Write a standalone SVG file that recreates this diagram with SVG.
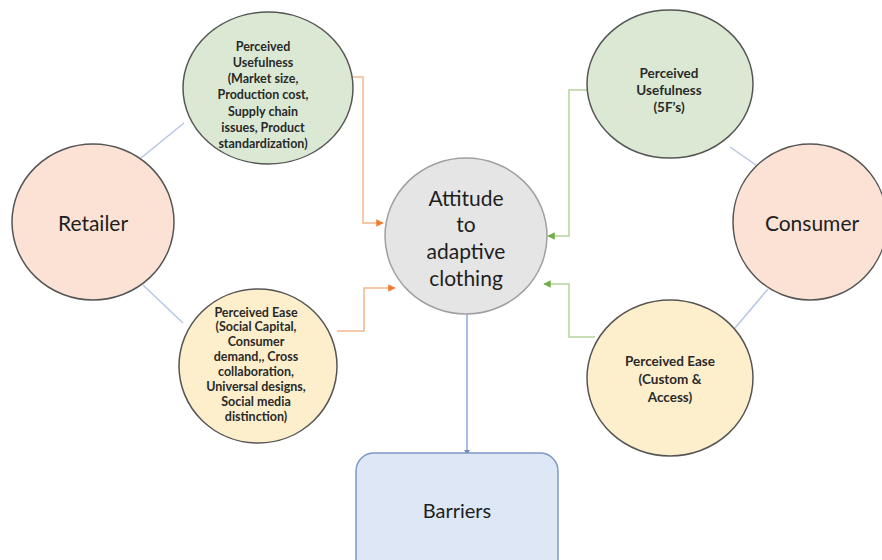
<svg xmlns="http://www.w3.org/2000/svg" width="882" height="560" viewBox="0 0 882 560">
<style>
  text { font-family: Lato, "Liberation Sans", sans-serif; fill: #1e1e1e; text-anchor: middle; dominant-baseline: central; }
  .small { font-size: 12.5px; font-weight: bold; fill: #2a2a2a; }
  .mid { font-size: 13.5px; font-weight: bold; fill: #2a2a2a; }
  .big { font-size: 21px; }
  .green { fill: #dbe9d4; stroke: #555; stroke-width: 1.5; }
  .yellow { fill: #fdefcb; stroke: #555; stroke-width: 1.5; }
  .peach { fill: #fbe2d4; stroke: #555; stroke-width: 1.5; }
  .grey { fill: #e5e5e6; stroke: #a0a0a4; stroke-width: 1.5; }
  .link { fill: none; stroke: #b7c6e4; stroke-width: 1.5; }
  .orange { fill: none; stroke: #f4b78e; stroke-width: 1.5; }
  .greenl { fill: none; stroke: #b5d29e; stroke-width: 1.5; }
  .bluel { fill: none; stroke: #8ea8d8; stroke-width: 1.5; }
</style>
<defs>
  <marker id="ao" viewBox="0 0 10 10" refX="9" refY="5" markerWidth="5" markerHeight="5" orient="auto">
    <path d="M0,0 L10,5 L0,10 z" fill="#ed7d31"/>
  </marker>
  <marker id="ag" viewBox="0 0 10 10" refX="9" refY="5" markerWidth="5" markerHeight="5" orient="auto">
    <path d="M0,0 L10,5 L0,10 z" fill="#70ad47"/>
  </marker>
  <marker id="ab" viewBox="0 0 10 10" refX="9" refY="5" markerWidth="4" markerHeight="4" orient="auto">
    <path d="M0,0 L10,5 L0,10 z" fill="#6a8ccc"/>
  </marker>
</defs>
<rect width="882" height="560" fill="#ffffff"/>
<g id="connectors">
  <line class="link" x1="141" y1="158" x2="184" y2="123"/>
  <line class="link" x1="143" y1="285" x2="183" y2="323"/>
  <line class="link" x1="730" y1="147" x2="756" y2="165"/>
  <line class="link" x1="768" y1="289" x2="735" y2="328"/>
  <polyline class="orange" points="352,77 363,77 363,223 383,223" marker-end="url(#ao)"/>
  <polyline class="orange" points="337,331 364,331 364,288 395,288" marker-end="url(#ao)"/>
  <polyline class="greenl" points="589,90 569,90 569,236 548,236" marker-end="url(#ag)"/>
  <polyline class="greenl" points="595,337 569,337 569,284 544,284" marker-end="url(#ag)"/>
  <line class="bluel" x1="467" y1="313" x2="467" y2="455" marker-end="url(#ab)"/>
</g>
<g id="retailer">
  <ellipse class="peach" cx="93" cy="222" rx="81" ry="78"/>
  <text class="big" x="93" y="222">Retailer</text>
</g>
<g id="consumer">
  <ellipse class="peach" cx="810" cy="222" rx="77" ry="78"/>
  <text class="big" x="812" y="222">Consumer</text>
</g>
<g id="pu-retailer">
  <ellipse class="green" cx="268" cy="88" rx="85" ry="76"/>
  <text class="small" x="263" y="46">Perceived</text>
  <text class="small" x="263" y="62">Usefulness</text>
  <text class="small" x="263" y="78">(Market size,</text>
  <text class="small" x="263" y="94">Production cost,</text>
  <text class="small" x="263" y="111">Supply chain</text>
  <text class="small" x="263" y="127">issues, Product</text>
  <text class="small" x="263" y="143">standardization)</text>
</g>
<g id="pe-retailer">
  <ellipse class="yellow" cx="258" cy="366" rx="79" ry="77"/>
  <text class="small" x="256" y="312">Perceived Ease</text>
  <text class="small" x="256" y="326">(Social Capital,</text>
  <text class="small" x="256" y="341">Consumer</text>
  <text class="small" x="256" y="356">demand,, Cross</text>
  <text class="small" x="256" y="371">collaboration,</text>
  <text class="small" x="256" y="386">Universal designs,</text>
  <text class="small" x="256" y="401">Social media</text>
  <text class="small" x="256" y="416">distinction)</text>
</g>
<g id="pu-consumer">
  <ellipse class="green" cx="670" cy="84" rx="83" ry="74"/>
  <text class="mid" x="669" y="73">Perceived</text>
  <text class="mid" x="669" y="90">Usefulness</text>
  <text class="mid" x="669" y="107">(5F’s)</text>
</g>
<g id="pe-consumer">
  <ellipse class="yellow" cx="670" cy="378" rx="83" ry="78"/>
  <text class="mid" x="670" y="361">Perceived Ease</text>
  <text class="mid" x="670" y="379">(Custom &amp;</text>
  <text class="mid" x="670" y="397">Access)</text>
</g>
<g id="attitude">
  <ellipse class="grey" cx="466" cy="236" rx="81" ry="78"/>
  <text class="big" x="466" y="197">Attitude</text>
  <text class="big" x="466" y="223">to</text>
  <text class="big" x="466" y="250">adaptive</text>
  <text class="big" x="466" y="277">clothing</text>
</g>
<g id="barriers">
  <rect x="356" y="453" width="202" height="125" rx="18" fill="#dde7f5" stroke="#7e98c6" stroke-width="1.5"/>
  <text x="457" y="510" style="font-size:20px">Barriers</text>
</g>
</svg>
